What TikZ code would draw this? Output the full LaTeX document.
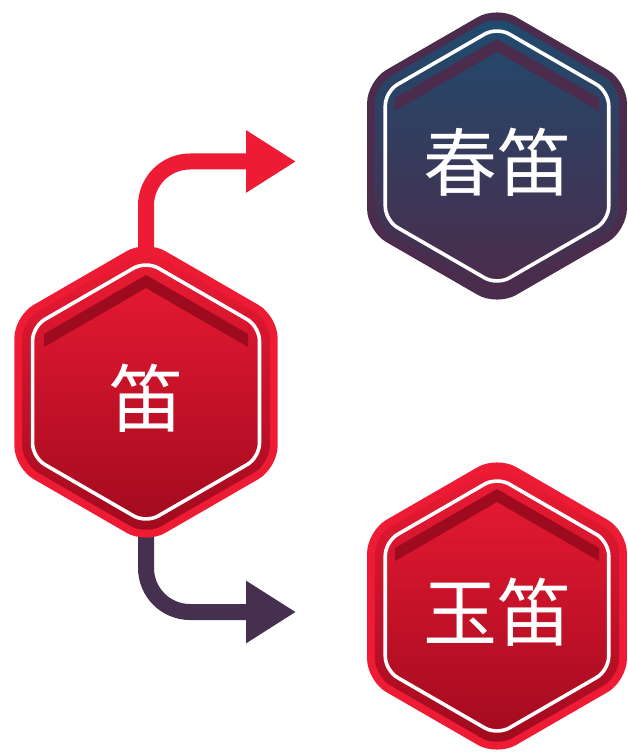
\documentclass[tikz,border=0pt]{standalone}
\usepackage{fontspec}
\newfontfamily\cjk{Noto Sans CJK SC}
\usetikzlibrary{arrows.meta}
\definecolor{redout}{HTML}{EE1B35}
\definecolor{redtop}{HTML}{EC1B34}
\definecolor{redbot}{HTML}{A00A1E}
\definecolor{redchev}{HTML}{9E0A1E}
\definecolor{purout}{HTML}{4B2C4C}
\definecolor{blutop}{HTML}{1F4B6E}
\definecolor{purbot}{HTML}{4D2B4A}
\definecolor{purchev}{HTML}{4C2C4D}
\definecolor{arrowpur}{HTML}{46304F}
\newcommand\hexshape[1]{(0:{(#1)*0.866}) -- (30:{#1}) -- (90:{#1}) -- (150:{#1}) -- (210:{#1}) -- (270:{#1}) -- (330:{#1}) -- cycle}
\newcommand\badge[8]{%
  \begin{scope}[shift={(#2)}]
    \fill[#4, rounded corners=22pt] \hexshape{#3};
    \shade[top color=#5, bottom color=#6, rounded corners=18pt] \hexshape{#3-9};
    \draw[white, line width=3.6pt, rounded corners=14pt] \hexshape{#3-21};
    \fill[#7] (-102,-58) -- (0,-117) -- (102,-58) -- (102,-45) -- (0,-104) -- (-102,-45) -- cycle;
    \node[badgetext] (#1) at (0,6) {#8};
  \end{scope}}
\tikzset{
  badgetext/.style={text=white, inner sep=0pt, font=\cjk\fontsize{74}{74}\selectfont},
  flowarrow/.style={line width=16pt, rounded corners=44pt, -{Triangle[length=50pt,width=59pt]}}
}
\begin{document}
\begin{tikzpicture}[x=1pt,y=-1pt]
\useasboundingbox (0,0) rectangle (628,754);
\coordinate (mid) at (146,392);
\coordinate (tipA) at (296,161.5);
\coordinate (tipB) at (296,612);
\draw[flowarrow, draw=redout] (mid) -- (mid |- tipA) -- (tipA);
\draw[flowarrow, draw=arrowpur] (mid) -- (mid |- tipB) -- (tipB);
\badge{chundi}{497,156}{150}{purout}{blutop}{purbot}{purchev}{春笛}
\badge{di}{146,392}{152}{redout}{redtop}{redbot}{redchev}{笛}
\badge{yudi}{497,606}{150}{redout}{redtop}{redbot}{redchev}{玉笛}
\end{tikzpicture}
\end{document}
